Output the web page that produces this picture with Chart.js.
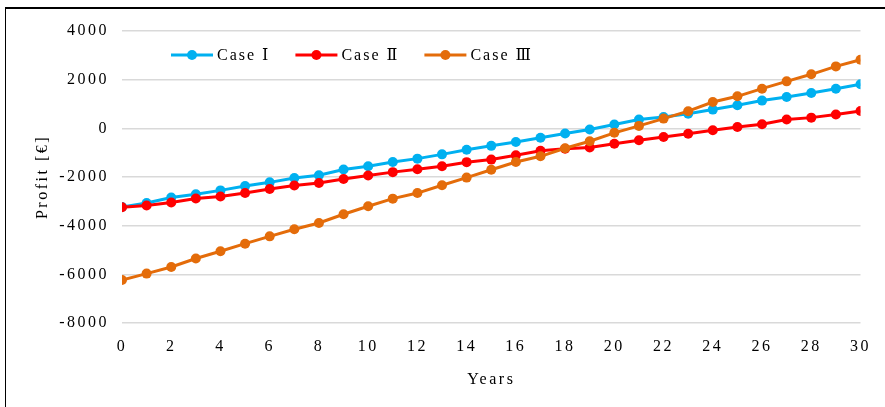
<!DOCTYPE html>
<html>
<head>
<meta charset="utf-8">
<script src="https://cdn.jsdelivr.net/npm/chart.js@4"></script>
<style>
  body { margin: 0; background: #fff; }
  canvas { display: block; }
</style>
</head>
<body>
<canvas id="myChart" width="885" height="407"></canvas>
<script>
// years on the x axis
const years = [0,1,2,3,4,5,6,7,8,9,10,11,12,13,14,15,16,17,18,19,20,21,22,23,24,25,26,27,28,29,30];

// profit per case
const caseI = [-3230,-3070,-2840,-2710,-2550,-2370,-2220,-2040,-1930,-1690,-1560,-1380,-1245,-1070,-880,-720,-560,-390,-210,-50,160,360,465,600,770,945,1140,1290,1450,1630,1810];
const caseII = [-3240,-3170,-3050,-2880,-2800,-2660,-2490,-2350,-2250,-2080,-1940,-1800,-1680,-1560,-1390,-1285,-1110,-920,-840,-790,-630,-490,-355,-220,-80,55,165,360,440,565,710];
const caseIII = [-6230,-5970,-5700,-5350,-5050,-4740,-4440,-4150,-3890,-3530,-3200,-2890,-2660,-2340,-2025,-1700,-1385,-1150,-820,-530,-185,100,400,705,1080,1315,1630,1930,2220,2545,2820];

const caseLabels = ['Case Ⅰ', 'Case Ⅱ', 'Case Ⅲ'];
const caseColors = ['#00b0f0', '#ff0000', '#e46c0a'];

const yTicks = { min: -8000, max: 4000, step: 2000 };
const xTicks = { min: 0, max: 30, step: 2 };

const fontFamily = "'Liberation Serif', 'DejaVu Serif', serif";

function spacing(chart) {
  chart.ctx.letterSpacing = '2.5px';
}

// white background + the frame lines
const frame = {
  id: 'frame',
  beforeUpdate: spacing,
  beforeDraw(chart) {
    const ctx = chart.ctx;
    spacing(chart);
    ctx.save();
    ctx.fillStyle = '#fff';
    ctx.fillRect(0, 0, chart.width, chart.height);
    ctx.strokeStyle = '#000';
    ctx.lineWidth = 2;
    ctx.beginPath();
    ctx.moveTo(5, 8);
    ctx.lineTo(chart.width, 8);
    ctx.stroke();
    ctx.lineWidth = 1;
    ctx.beginPath();
    ctx.moveTo(5.5, 8);
    ctx.lineTo(5.5, chart.height);
    ctx.stroke();
    ctx.restore();
  }
};

// legend drawn inside the plot, top left
const insideLegend = {
  id: 'insideLegend',
  afterDraw(chart) {
    const ctx = chart.ctx;
    ctx.save();
    ctx.letterSpacing = '2px';
    ctx.font = '16px ' + fontFamily;
    ctx.textBaseline = 'middle';
    let x = chart.chartArea.left + 49;
    const y = chart.chartArea.top + 24;
    chart.data.datasets.forEach(ds => {
      ctx.strokeStyle = ds.borderColor;
      ctx.fillStyle = ds.borderColor;
      ctx.lineWidth = 3;
      ctx.beginPath();
      ctx.moveTo(x, y);
      ctx.lineTo(x + 42, y);
      ctx.stroke();
      ctx.beginPath();
      ctx.arc(x + 21, y, 5, 0, Math.PI * 2);
      ctx.fill();
      ctx.fillStyle = '#000';
      ctx.fillText(ds.label, x + 46, y + 1);
      x += 46 + ctx.measureText(ds.label).width + 25;
    });
    ctx.restore();
  }
};

function makeSet(i, values) {
  return {
    label: caseLabels[i],
    data: values,
    borderColor: caseColors[i],
    backgroundColor: caseColors[i],
    borderWidth: 3,
    pointRadius: 5,
    pointHoverRadius: 5,
    pointBorderWidth: 0,
    tension: 0,
    order: 3 - i
  };
}

let myChart = document.getElementById("myChart");

massChart = new Chart(myChart, {
  type: 'line',
  data: {
    labels: years,
    datasets: [makeSet(0, caseI), makeSet(1, caseII), makeSet(2, caseIII)]
  },
  options: {
    responsive: false,
    animation: false,
    devicePixelRatio: 1,
    layout: { padding: { left: 0, right: 22, top: 31, bottom: 0 } },
    plugins: {
      legend: { display: false },
      tooltip: { enabled: false }
    },
    scales: {
      x: {
        type: 'linear',
        min: xTicks.min,
        max: xTicks.max,
        grid: { display: false, drawTicks: false },
        border: { display: false },
        ticks: {
          stepSize: xTicks.step,
          padding: 14,
          color: '#000',
          font: { family: fontFamily, size: 16 },
          maxRotation: 0
        },
        title: {
          display: true,
          text: 'Years',
          color: '#000',
          font: { family: fontFamily, size: 16 },
          padding: { top: 0, bottom: 18 }
        },
        afterFit: scale => { scale.height = 84; }
      },
      y: {
        min: yTicks.min,
        max: yTicks.max,
        grid: { color: '#d9d9d9', lineWidth: 1.5, drawTicks: false },
        border: { display: false },
        ticks: {
          stepSize: yTicks.step,
          padding: 13,
          color: '#000',
          font: { family: fontFamily, size: 16 },
          callback: v => String(v)
        },
        title: {
          display: true,
          text: 'Profit [€]',
          color: '#000',
          font: { family: fontFamily, size: 16 },
          padding: { top: 33, bottom: 0 }
        },
        afterFit: scale => { scale.width = 122; }
      }
    }
  },
  plugins: [frame, insideLegend]
});
</script>
</body>
</html>
